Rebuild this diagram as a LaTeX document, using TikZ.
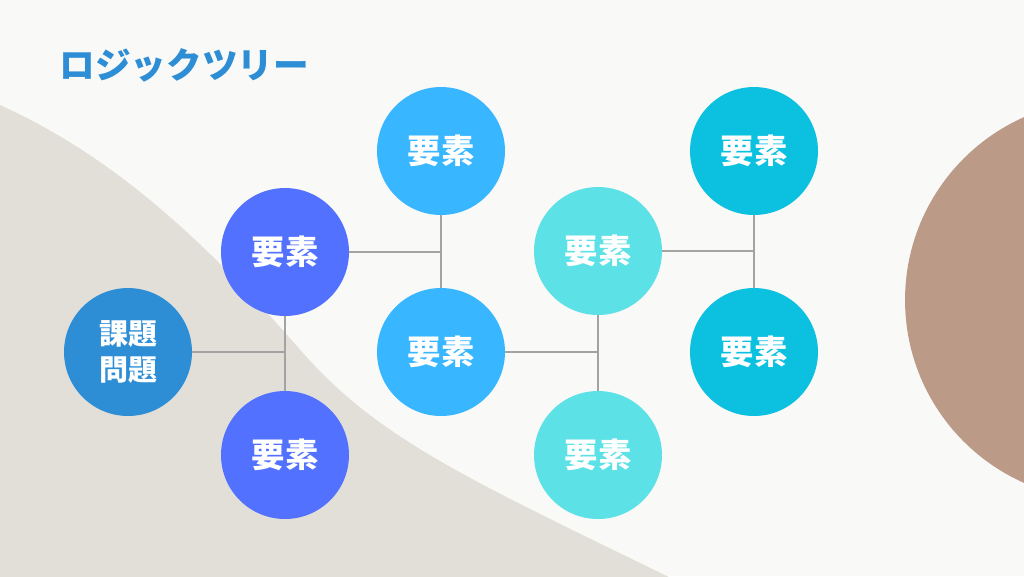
\documentclass[tikz,border=0pt]{standalone}
\usepackage{fontspec}
\newfontfamily\cjk{Noto Sans CJK JP}
\definecolor{bgc}{HTML}{F9F9F7}
\definecolor{sandc}{HTML}{E2DFD8}
\definecolor{brownc}{HTML}{BC9A88}
\definecolor{rootc}{HTML}{2D8ED6}
\definecolor{bluec}{HTML}{5271FF}
\definecolor{skyc}{HTML}{38B6FF}
\definecolor{aquac}{HTML}{5CE1E6}
\definecolor{cyanc}{HTML}{0CC0DF}
\definecolor{linec}{HTML}{A3A3A3}
\definecolor{titlec}{HTML}{2D8ED6}
\begin{document}
\begin{tikzpicture}[x=0.02cm,y=-0.02cm,
  bubble/.style={circle,minimum size=2.56cm,inner sep=0pt,text=white,
    font=\cjk\bfseries\fontsize{19pt}{23pt}\selectfont,align=center},
  rootbubble/.style={bubble,fill=rootc,font=\cjk\bfseries\fontsize{16.5pt}{21pt}\selectfont},
  link/.style={draw=linec,line width=0.85pt}]
\useasboundingbox (0,0) rectangle (1024,576);
\begin{scope}
\clip (0,0) rectangle (1024,576);
\fill[bgc] (0,0) rectangle (1024,576);
\fill[sandc] (0,580) -- (0,105) .. controls (110,155) and (200,235) .. (303,353)
  .. controls (380,440) and (470,480) .. (675,580) -- cycle;
\fill[brownc] (1105,300) circle[radius=4cm];
\end{scope}
\node[anchor=west,inner sep=0pt,text=titlec,font=\cjk\bfseries\fontsize{20.3pt}{24pt}\selectfont] (title) at (59,65) {ロジックツリー};
\node[rootbubble] (root) at (128,352) {課題\\問題};
\node[bubble,fill=bluec] (b1) at (285,252) {要素};
\node[bubble,fill=bluec] (b2) at (285,455) {要素};
\node[bubble,fill=skyc] (s1) at (441,151) {要素};
\node[bubble,fill=skyc] (s2) at (441,352) {要素};
\node[bubble,fill=aquac] (a1) at (598,251) {要素};
\node[bubble,fill=aquac] (a2) at (598,455) {要素};
\node[bubble,fill=cyanc] (c1) at (754,151) {要素};
\node[bubble,fill=cyanc] (c2) at (754,352) {要素};
% junctions
\coordinate (j1) at (b1 |- root);
\coordinate (j2) at (s1 |- b1);
\coordinate (j3) at (a1 |- s2);
\coordinate (j4) at (c1 |- a1);
% connectors
\draw[link] (root.east) -- (j1);
\draw[link] (b1.south) -- (b2.north);
\draw[link] (b1.east) -- (j2);
\draw[link] (s1.south) -- (s2.north);
\draw[link] (s2.east) -- (j3);
\draw[link] (a1.south) -- (a2.north);
\draw[link] (a1.east) -- (j4);
\draw[link] (c1.south) -- (c2.north);
\end{tikzpicture}
\end{document}
